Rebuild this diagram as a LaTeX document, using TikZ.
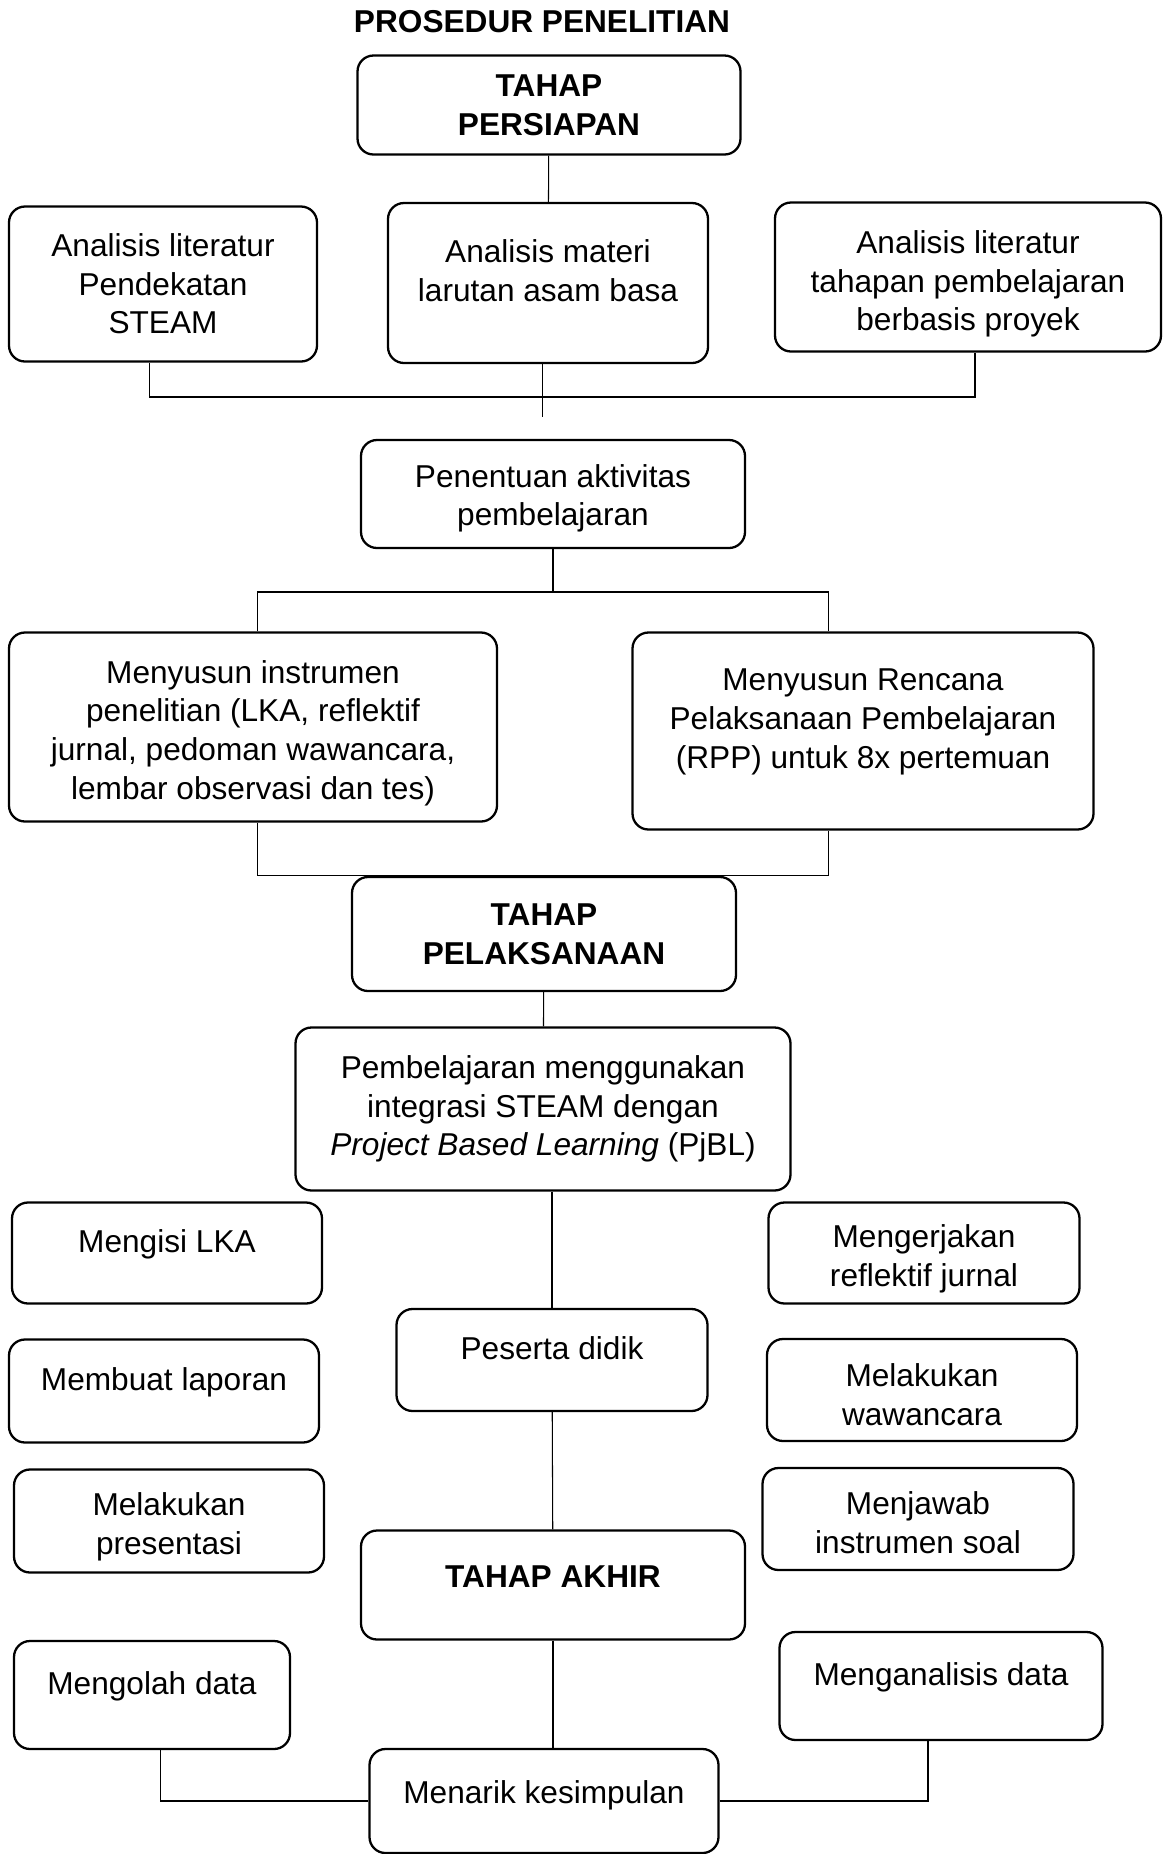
\documentclass[tikz,border=0pt]{standalone}
\usepackage{fontspec}
\setmainfont{Liberation Sans}
\usetikzlibrary{calc}
\newcommand{\pxu}{0.02cm}
\newcommand{\padbelow}{\\[-8pt]\mbox{}}

\begin{document}
\begin{tikzpicture}[
        x=0.02cm, y=-0.02cm,
        box/.style={draw, rounded corners=16*\pxu, line width=1.3pt, align=center,
                    font=\fontsize{18pt}{22pt}\selectfont, inner sep=2pt},
        head/.style={box, font=\fontsize{18pt}{22pt}\selectfont\bfseries},
        sink/.style={text height=#1},
        conn/.style={line width=0.6pt}
      ]
        \useasboundingbox (0,0) rectangle (1166,1854);

        \node[font=\fontsize{18pt}{22pt}\selectfont\bfseries] (title) at (542,22) {PROSEDUR PENELITIAN};

        \node[head, minimum width=383*\pxu, minimum height=99*\pxu] (prep) at (549,105) {TAHAP\\PERSIAPAN};

        \node[box, minimum width=308*\pxu, minimum height=155*\pxu] (lit1) at (163,284)
          {Analisis literatur\\Pendekatan\\STEAM};
        \node[box, minimum width=320*\pxu, minimum height=160*\pxu] (materi) at (548,283)
          {Analisis materi\\larutan asam basa\padbelow};
        \node[box, sink=65pt, minimum width=386*\pxu, minimum height=149*\pxu] (lit2) at (968,277)
          {Analisis literatur\\tahapan pembelajaran\\berbasis proyek};

        \node[box, sink=40pt, minimum width=384*\pxu, minimum height=108*\pxu] (aktiv) at (553,494)
          {Penentuan aktivitas\\pembelajaran};

        \node[box, sink=86pt, minimum width=488*\pxu, minimum height=189*\pxu] (instr) at (253,727)
          {Menyusun instrumen\\penelitian (LKA, reflektif\\jurnal, pedoman wawancara,\\lembar observasi dan tes)};
        \node[box, minimum width=461*\pxu, minimum height=197*\pxu] (rpp) at (863,731)
          {Menyusun Rencana\\Pelaksanaan Pembelajaran\\(RPP) untuk 8x pertemuan\padbelow};

        \node[head, minimum width=384*\pxu, minimum height=114*\pxu] (laks) at (544,934) {TAHAP\\PELAKSANAAN};

        \node[box, minimum width=495*\pxu, minimum height=163*\pxu] (pjbl) at (543,1109)
          {Pembelajaran menggunakan\\integrasi STEAM dengan\\\textit{Project Based Learning} (PjBL)};

        \node[box, minimum width=310*\pxu, minimum height=101*\pxu] (lka) at (167,1253) {Mengisi LKA\padbelow};
        \node[box, minimum width=310*\pxu, minimum height=103*\pxu] (lapor) at (164,1391) {Membuat laporan\padbelow};
        \node[box, sink=42pt, minimum width=310*\pxu, minimum height=103*\pxu] (presen) at (169,1521) {Melakukan\\presentasi};

        \node[box, minimum width=311*\pxu, minimum height=102*\pxu] (peserta) at (552,1360) {Peserta didik\padbelow};

        \node[box, sink=42pt, minimum width=311*\pxu, minimum height=101*\pxu] (jurnal) at (924,1253) {Mengerjakan\\reflektif jurnal};
        \node[box, sink=40pt, minimum width=310*\pxu, minimum height=102*\pxu] (wawan) at (922,1390) {Melakukan\\wawancara};
        \node[box, sink=39pt, minimum width=311*\pxu, minimum height=102*\pxu] (soal) at (918,1519) {Menjawab\\instrumen soal};

        \node[head, sink=31pt, minimum width=384*\pxu, minimum height=109*\pxu] (akhir) at (553,1585) {TAHAP AKHIR\padbelow};

        \node[box, minimum width=276*\pxu, minimum height=108*\pxu] (olah) at (152,1695) {Mengolah data\padbelow};
        \node[box, minimum width=323*\pxu, minimum height=108*\pxu] (analisis) at (941,1686) {Menganalisis data\padbelow};

        \node[box, sink=31pt, minimum width=349*\pxu, minimum height=104*\pxu] (simpul) at (544,1801) {Menarik kesimpulan\padbelow};

        \coordinate (busA) at (549,397);
        \coordinate (tipA) at (543,417);
        \coordinate (busB) at (553,592);

        \draw[conn] (prep) -- (materi);
        \draw[conn] ($(lit1.south west)!0.455!(lit1.south east)$) coordinate (litS)
          -- (litS |- busA) -| ($(lit2.south west)!0.518!(lit2.south east)$);
        \draw[conn] ($(materi.south west)!0.484!(materi.south east)$) coordinate (matS)
          -- (matS |- tipA);

        \draw[conn] (aktiv.south) -- (aktiv.south |- busB);
        \draw[conn] ($(instr.north west)!0.51!(instr.north east)$) |- (busB)
          -| ($(rpp.north west)!0.425!(rpp.north east)$);

        \draw[conn] ($(instr.south west)!0.51!(instr.south east)$) |- (laks.north)
          -| ($(rpp.south west)!0.425!(rpp.south east)$);

        \draw[conn] (laks) -- (pjbl);
        \draw[conn] (pjbl.south -| peserta.north) -- (peserta.north);
        \draw[conn] (peserta) -- (akhir);
        \draw[conn] (akhir.south) -- (akhir.south |- simpul.north);

        \draw[conn] ($(olah.south west)!0.53!(olah.south east)$) |- (simpul.west);
        \draw[conn] (simpul.east) -| ($(analisis.south west)!0.46!(analisis.south east)$);
      \end{tikzpicture}
\end{document}
